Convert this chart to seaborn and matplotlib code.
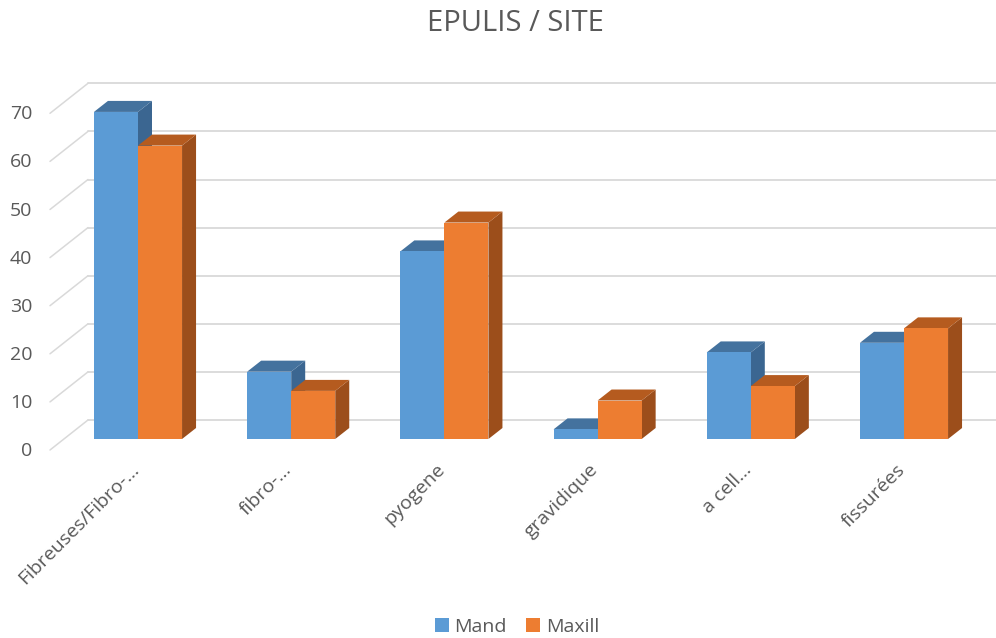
import numpy as np
import pandas as pd
import matplotlib
matplotlib.use("Agg")
import matplotlib.pyplot as plt
import seaborn as sns
from matplotlib.patches import Polygon
from matplotlib.lines import Line2D
from matplotlib.transforms import ScaledTranslation

# data
categories = ["Fibreuses/Fibro-...", "fibro-...", "pyogene", "gravidique", "a cell...", "fissurées"]
mand = [68, 14, 39, 2, 18, 20]
maxill = [61, 10, 45, 8, 11, 23]
series = ["Mand", "Maxill"]
yticks = list(range(0, 80, 10))

front_colors = {"Mand": "#5B9BD5", "Maxill": "#ED7D31"}
top_colors = {"Mand": "#44729E", "Maxill": "#B55B1F"}
side_colors = {"Mand": "#3B6691", "Maxill": "#9C4E1B"}
TXT = "#595959"
GRID = "#D9D9D9"

df = pd.DataFrame({
    "type": categories * 2,
    "site": ["Mand"] * len(mand) + ["Maxill"] * len(maxill),
    "count": mand + maxill,
})

sns.set_style("white")
plt.rcParams["font.family"] = ["Open Sans", "DejaVu Sans"]

W, H, DPI = 996, 638, 100
fig = plt.figure(figsize=(W / DPI, H / DPI), dpi=DPI)
# axes = front plane of the bars (pixel box measured on the reference)
ax = fig.add_axes([61.4 / W, 1 - 439 / H, 919.2 / W, 336.7 / H])

sns.barplot(data=df, x="type", y="count", hue="site", hue_order=series,
            palette=front_colors, saturation=1, width=0.575, errorbar=None,
            linewidth=0, ax=ax)
ax.set_xlim(-0.5, 5.5)
ax.set_ylim(0, 70)
ax.patch.set_visible(False)
for s in ax.spines.values():
    s.set_visible(False)
ax.set_xlabel("")
ax.set_ylabel("")


def shift(xd, yd, dx, dy):
    # move a data point by (dx, dy) screen pixels, back to data coords
    p = ax.transData.transform((xd, yd)) + np.array([dx, dy])
    return ax.transData.inverted().transform(p)


# back wall gridlines + left wall diagonals (fake 3D)
WALL = (24, 19)
for v in yticks:
    a = shift(-0.5, v, 2.6 + WALL[0], WALL[1])
    b = shift(5.5, v, 60, WALL[1])
    ax.add_line(Line2D([a[0], b[0]], [a[1], b[1]], color=GRID, lw=1.3,
                       zorder=0, clip_on=False))
    c = shift(-0.5, v, -11.4, -11)
    ax.add_line(Line2D([c[0], a[0]], [c[1], a[1]], color=GRID, lw=1.1,
                       zorder=0, clip_on=False))

# bar depth: top and side faces
DEPTH = (14, 11)
for k, (name, container) in enumerate(zip(series, ax.containers)):
    for bar in container:
        x, y0 = bar.get_x(), bar.get_y()
        w, h = bar.get_width(), bar.get_height()
        top = [(x, y0 + h), (x + w, y0 + h),
               shift(x + w, y0 + h, *DEPTH), shift(x, y0 + h, *DEPTH)]
        side = [(x + w, y0), (x + w, y0 + h),
                shift(x + w, y0 + h, *DEPTH), shift(x + w, y0, *DEPTH)]
        ax.add_patch(Polygon(side, closed=True, facecolor=side_colors[name],
                             edgecolor="none", zorder=1 + 0.5 * k, clip_on=False))
        ax.add_patch(Polygon(top, closed=True, facecolor=top_colors[name],
                             edgecolor="none", zorder=1.1 + 0.5 * k, clip_on=False))
        bar.set_zorder(2)

# ticks
ax.set_yticks(yticks)
ax.set_yticklabels([str(v) for v in yticks])
ax.tick_params(axis="y", length=0, pad=21, labelsize=14, labelcolor=TXT)
for lbl in ax.get_yticklabels():
    lbl.set_transform(lbl.get_transform() + ScaledTranslation(0, -10 / DPI, fig.dpi_scale_trans))

ax.set_xticks(range(len(categories)))
ax.set_xticklabels(categories, rotation=45, ha="right", va="center",
                   rotation_mode="anchor")
ax.tick_params(axis="x", length=0, pad=20, labelsize=14, labelcolor=TXT)
for lbl in ax.get_xticklabels():
    lbl.set_transform(lbl.get_transform() + ScaledTranslation(-2 / DPI, 0, fig.dpi_scale_trans))

# legend
handles, labels = ax.get_legend_handles_labels()
ax.legend(handles, labels, loc="center", bbox_to_anchor=(517 / W, 1 - 627 / H),
          bbox_transform=fig.transFigure, ncol=2, frameon=False, fontsize=14,
          labelcolor=TXT, handlelength=0.7, handleheight=0.7,
          handletextpad=0.3, columnspacing=1.0)

fig.text(515 / W, 1 - 23.5 / H, "EPULIS / SITE", ha="center", va="center",
         fontsize=21, color=TXT)

fig.savefig("out.png", dpi=DPI)
